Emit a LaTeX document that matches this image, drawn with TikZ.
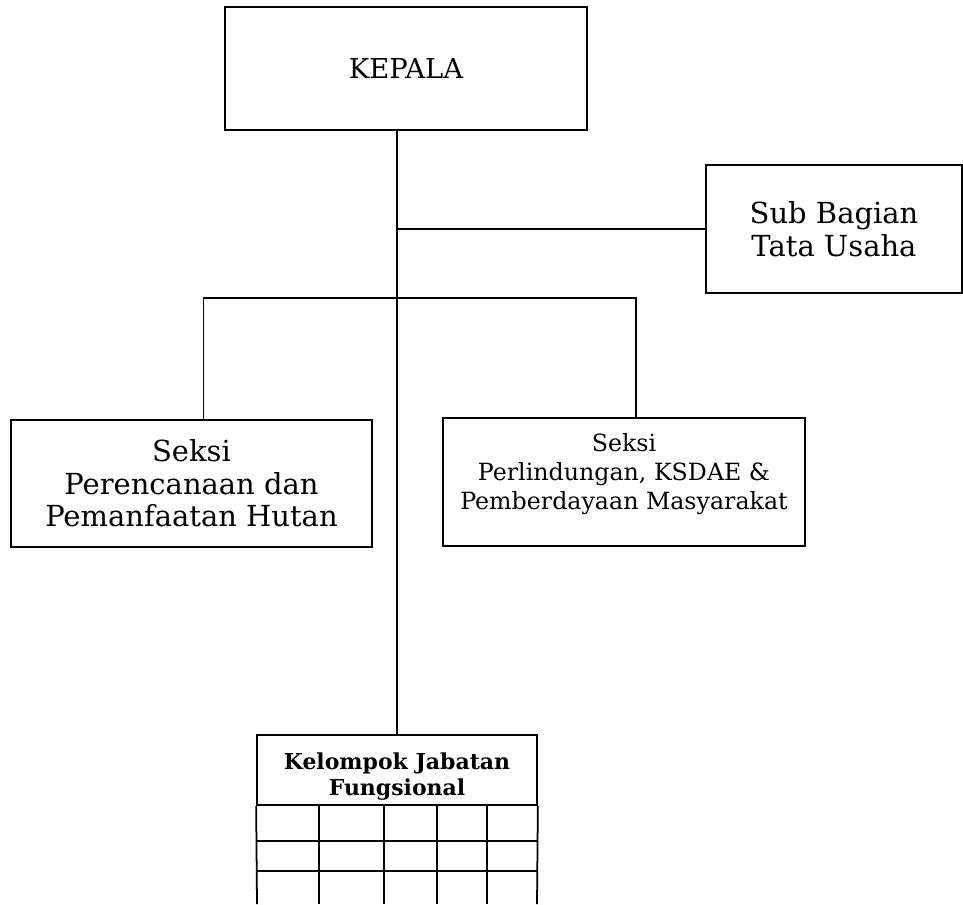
\documentclass[tikz,border=0pt]{standalone}
\usepackage{fontspec}
\setmainfont{DejaVu Serif}
\usetikzlibrary{positioning}

\tikzset{
  orgbox/.style={draw, line width=1pt, align=center, inner sep=0pt},
  orgline/.style={line width=1pt}
}

\begin{document}
\begin{tikzpicture}[x=0.02cm, y=-0.02cm]
\useasboundingbox (0,0) rectangle (963,904);

% boxes
\node [orgbox, minimum width=7.24cm, minimum height=2.46cm, font=\fontsize{15.6}{18}\selectfont] (kepala) at (406,68.5) {KEPALA};
\node [orgbox, minimum width=5.12cm, minimum height=2.56cm, font=\fontsize{16.5}{18.5}\selectfont] (subbag) at (834,229) {Sub Bagian\\Tata Usaha};
\node [orgbox, minimum width=7.22cm, minimum height=2.54cm, font=\fontsize{16.5}{18.5}\selectfont] (seksiA) at (191.5,483.5) {Seksi\\Perencanaan dan\\Pemanfaatan Hutan};
\node [orgbox, minimum width=7.24cm, minimum height=2.56cm, font=\fontsize{13.5}{16.5}\selectfont] (seksiB) at (624,482) {Seksi\\Perlindungan, KSDAE \&\\Pemberdayaan Masyarakat\rule[-12pt]{0pt}{1pt}};
\node [orgbox, minimum width=5.6cm, minimum height=1.4cm, font=\bfseries\fontsize{12.5}{15}\selectfont] (kjf) at (397,770) {\rule{0pt}{17pt}Kelompok Jabatan\\Fungsional};

% grid under kelompok
\draw [orgline] (kjf.south west) -- (257,904);
\draw [orgline] (kjf.south east) -- (537,904);
\foreach \cx in {319,384,437,487}
  \draw [orgline] (\cx,805) -- (\cx,904);
\foreach \ry in {841,871}
  \draw [orgline] (257,\ry) -- (537,\ry);

% connectors
\coordinate (trunk) at (kjf.north |- kepala.south);
\coordinate (bar) at (kjf.north |- 0,298);
\draw [orgline] (trunk) -- (kjf.north);
\draw [orgline] (subbag.west) -- (subbag.west -| kjf.north);
\draw [orgline] ([xshift=0.24cm]seksiA.north) |- (bar) -| ([xshift=0.24cm]seksiB.north);
\end{tikzpicture}
\end{document}
